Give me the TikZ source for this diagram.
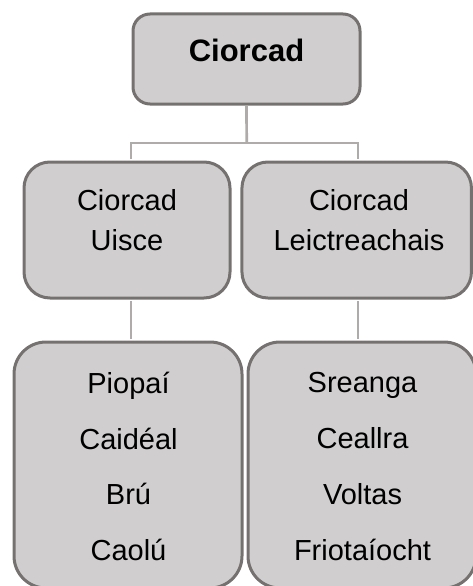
\documentclass[tikz,border=0pt]{standalone}
\usepackage{fontspec}
\setmainfont{Liberation Sans}
\usetikzlibrary{calc}
\definecolor{boxfill}{RGB}{208,206,206}
\definecolor{boxline}{RGB}{118,113,113}
\definecolor{connline}{RGB}{175,171,171}
\tikzset{
  box/.style={draw=boxline, fill=boxfill, line width=3pt, inner sep=0pt},
  txt/.style={inner sep=0pt, align=center, font=\fontsize{29}{40}\selectfont, text=black},
  conn/.style={draw=connline, line width=2.7pt},
}
\begin{document}
\begin{tikzpicture}[x=1pt,y=-1pt]
\useasboundingbox (0,0) rectangle (473,586);
% connectors (behind boxes)
\coordinate (j) at (246.7,143);
% boxes
\node[box, rounded corners=17pt, minimum width=227pt, minimum height=90pt] (top) at (246.5,59) {};
\node[box, rounded corners=26pt, minimum width=206pt, minimum height=136pt] (ml) at (127,230) {};
\node[box, rounded corners=26pt, minimum width=229.5pt, minimum height=136pt] (mr) at (356.7,230) {};
\node[box, rounded corners=32pt, minimum width=228pt, minimum height=246pt] (bl) at (128,465) {};
\node[box, rounded corners=32pt, minimum width=228pt, minimum height=246pt] (br) at (362,465) {};
% connectors
\draw[conn] (top.south) -- (j);
\draw[conn] ($(ml.north)+(4,-1.5)$) |- (j) -| ($(mr.north)+(1.3,-1.5)$);
\draw[conn] ($(ml.south)+(4,1.5)$) -- ($(bl.north)+(3,-1.5)$);
\draw[conn] ($(mr.south)+(1.3,1.5)$) -- ($(br.north)+(-4,-1.5)$);
% texts
\node[txt, font=\fontsize{31}{40}\selectfont\bfseries] (topt) at (246.5,50) {Ciorcad};
\node[txt] (mlt) at (127,220) {Ciorcad\\Uisce};
\node[txt] (mrt) at (359,220) {Ciorcad\\Leictreachais};
\node[txt, font=\fontsize{29}{55.7}\selectfont] (blt) at (128.5,466.5) {Piopaí\\Caidéal\\Brú\\Caolú};
\node[txt, font=\fontsize{29}{55.7}\selectfont] (brt) at (362.5,466.5) {Sreanga\\Ceallra\\Voltas\\Friotaíocht};
\end{tikzpicture}
\end{document}
